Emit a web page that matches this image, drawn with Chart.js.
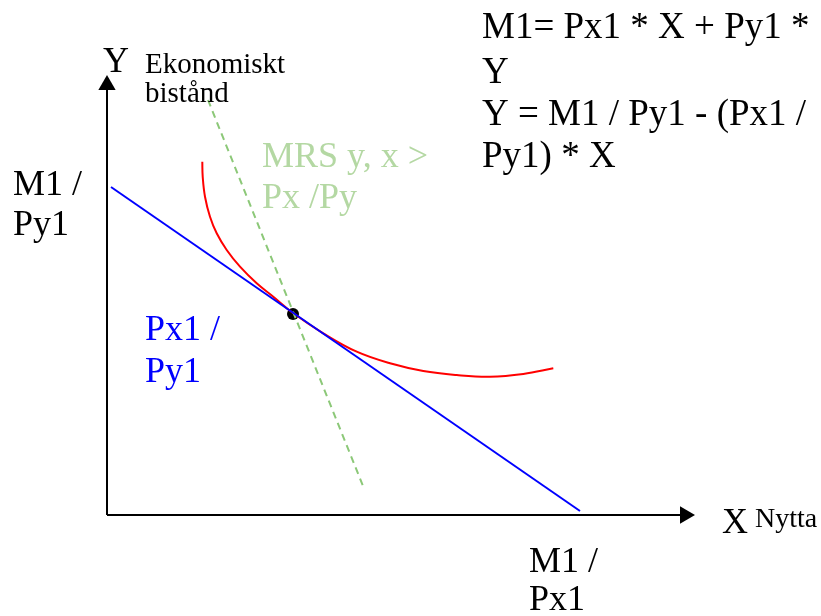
<!DOCTYPE html>
<html>
<head>
<meta charset="utf-8">
<script src="https://cdn.jsdelivr.net/npm/chart.js@4/dist/chart.umd.min.js"></script>
<style>
html,body{margin:0;padding:0;background:#fff;}
canvas{display:block;}
</style>
</head>
<body>
<canvas id="c" width="821" height="616"></canvas>
<script>
// Axis lines (data units, origin at the axes' crossing)
const yAxisLine = [{x:0,y:0},{x:0,y:4.30}];
const xAxisLine = [{x:0,y:0},{x:5.78,y:0}];
const yArrowTip = [{x:0,y:4.30}];
const xArrowTip = [{x:5.78,y:0}];
// Budget line
const budgetLine = [{x:0.04,y:3.28},{x:4.73,y:0.04}];
// MRS dashed line
const mrsLine = [{x:1.01,y:4.15},{x:2.56,y:0.29}];
// Indifference curve
const curveX = [0.953,0.957,0.98,1.03,1.097,1.197,1.33,1.497,1.663,1.86,2.163,2.497,2.83,3.163,3.497,3.83,4.163,4.463];
const curveY = [3.533,3.383,3.183,2.983,2.817,2.65,2.483,2.317,2.183,2.02,1.817,1.633,1.517,1.44,1.40,1.383,1.41,1.467];
// Tangency point
const tangency = [{x:1.86,y:2.01}];

const SERIF = '"Liberation Serif","Times New Roman",serif';
const labels = [
  {t:'M1= Px1 * X + Py1 *', x:3.75, y:4.77, s:37, c:'#000'},
  {t:'Y', x:3.75, y:4.32, s:37, c:'#000'},
  {t:'Y = M1 / Py1 - (Px1 /', x:3.75, y:3.90, s:37, c:'#000'},
  {t:'Py1) * X', x:3.75, y:3.48, s:37, c:'#000'},
  {t:'Y', x:-0.04, y:4.43, s:36, c:'#000'},
  {t:'Ekonomiskt', x:0.38, y:4.42, s:29, c:'#000'},
  {t:'bistånd', x:0.38, y:4.13, s:29, c:'#000'},
  {t:'M1 /', x:-0.94, y:3.20, s:36, c:'#000'},
  {t:'Py1', x:-0.94, y:2.80, s:36, c:'#000'},
  {t:'Px1 /', x:0.38, y:1.75, s:36, c:'#0000ff'},
  {t:'Py1', x:0.38, y:1.33, s:36, c:'#0000ff'},
  {t:'MRS y, x >', x:1.55, y:3.48, s:36, c:'#b4d8a3'},
  {t:'Px /Py', x:1.55, y:3.07, s:36, c:'#b4d8a3'},
  {t:'X', x:6.15, y:-0.18, s:36, c:'#000'},
  {t:'Nytta', x:6.48, y:-0.12, s:28, c:'#000'},
  {t:'M1 /', x:4.22, y:-0.57, s:36, c:'#000'},
  {t:'Px1', x:4.22, y:-0.95, s:36, c:'#000'}
];

const textPlugin = {
  id:'texts',
  afterDatasetsDraw(chart){
    const ctx = chart.ctx, xs = chart.scales.x, ys = chart.scales.y;
    ctx.save();
    ctx.textBaseline = 'alphabetic';
    ctx.textAlign = 'left';
    labels.forEach(l=>{
      ctx.font = l.s + 'px ' + SERIF;
      ctx.fillStyle = l.c;
      ctx.fillText(l.t, xs.getPixelForValue(l.x), ys.getPixelForValue(l.y));
    });
    ctx.restore();
  }
};

const line = (data, color, extra) => Object.assign({
  type:'line', data, borderColor:color, backgroundColor:color,
  borderWidth:2, pointRadius:0, fill:false, tension:0
}, extra||{});

new Chart(document.getElementById('c'), {
  type:'scatter',
  data:{datasets:[
    line(yAxisLine,'#000'),
    line(xAxisLine,'#000'),
    {type:'scatter', data:yArrowTip, pointStyle:'triangle', rotation:0, pointRadius:10, backgroundColor:'#000', borderColor:'#000', borderWidth:0},
    {type:'scatter', data:xArrowTip, pointStyle:'triangle', rotation:90, pointRadius:10, backgroundColor:'#000', borderColor:'#000', borderWidth:0},
    line(budgetLine,'#0000ff'),
    line(mrsLine,'#8cc878',{borderDash:[7,5]}),
    line(curveX.map((v,i)=>({x:v,y:curveY[i]})),'#ff0000',{tension:0.4}),
    {type:'scatter', data:tangency, pointStyle:'circle', pointRadius:6, backgroundColor:'#000', borderColor:'#000', borderWidth:0}
  ]},
  options:{
    responsive:false, animation:false, devicePixelRatio:1,
    layout:{padding:0, autoPadding:false},
    plugins:{legend:{display:false}, tooltip:{enabled:false}},
    scales:{
      x:{type:'linear', min:-1.07, max:7.14, display:false},
      y:{type:'linear', min:-1.01, max:5.15, display:false}
    }
  },
  plugins:[textPlugin]
});
</script>
</body>
</html>
